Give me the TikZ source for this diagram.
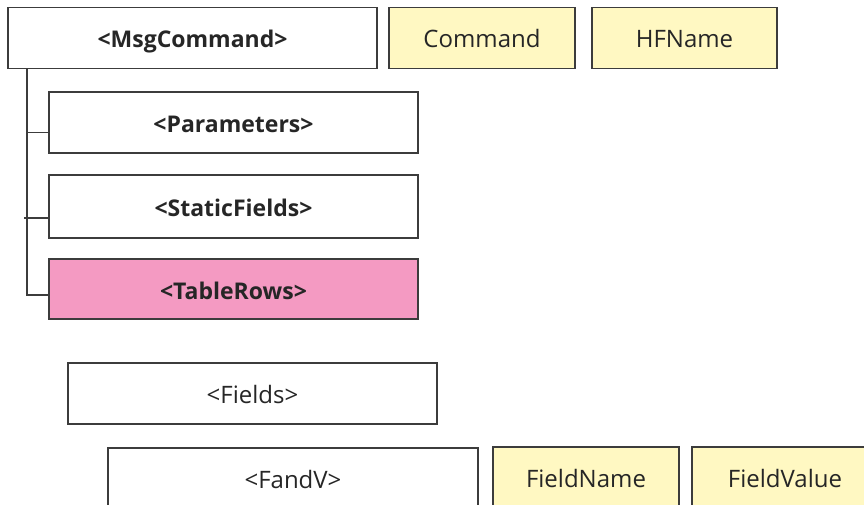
\documentclass[tikz,border=0pt]{standalone}
\usepackage{fontspec}
\setmainfont{Open Sans}
\definecolor{boxline}{HTML}{3C3C3C}
\definecolor{attrfill}{HTML}{FFF8C2}
\definecolor{pinkfill}{HTML}{F49AC2}
\tikzset{
  elem/.style={draw=boxline, line width=1.5pt, fill=white, minimum height=61pt, inner sep=0pt, text height=23pt, text depth=3pt, font=\fontsize{23}{28}\selectfont\bfseries, text=black!85},
  elemreg/.style={elem, font=\fontsize{24}{28}\selectfont},
  attr/.style={draw=boxline, line width=1.5pt, fill=attrfill, minimum height=61pt, minimum width=186pt, inner sep=0pt, text height=23pt, text depth=3pt, font=\fontsize{24}{28}\selectfont, text=black!85},
  tree/.style={draw=boxline, line width=1.6pt}
}
\begin{document}
\begin{tikzpicture}[x=1pt,y=-1pt]
\useasboundingbox (0,0) rectangle (864,505);
\clip (0,0) rectangle (864,505);
\node[elem, minimum width=369pt] (msg) at (192.5,38) {<MsgCommand>};
\node[attr] (cmd) at (482,38) {Command};
\node[attr, minimum width=185pt] (hfn) at (684.5,38) {HFName};
\node[elem, minimum width=369pt] (par) at (233.5,122.5) {<Parameters>};
\node[elem, minimum width=369pt, minimum height=63pt] (sta) at (233.5,206.5) {<StaticFields>};
\node[elem, minimum width=369pt, minimum height=60pt, fill=pinkfill] (tab) at (233.5,289) {<TableRows>};
\node[elemreg, minimum width=369pt] (fld) at (252.5,393.5) {<Fields>};
\node[elemreg, minimum width=370pt] (fv) at (293,478.5) {<FandV>};
\node[attr] (fn) at (586,477.5) {FieldName};
\node[attr] (fvl) at (785,477.5) {FieldValue};
\coordinate (sp) at (27,0);
\coordinate (spx) at (24,0);
\draw[tree] ([yshift=-10pt]par.west) -- ([yshift=-10pt]par.west -| sp);
\draw[tree] ([yshift=-11.5pt]sta.west) -- ([yshift=-11.5pt]sta.west -| spx);
\draw[tree] ([yshift=-6pt]tab.west) -- ([yshift=-6pt]tab.west -| sp) -- (sp |- msg.south);
\end{tikzpicture}
\end{document}
